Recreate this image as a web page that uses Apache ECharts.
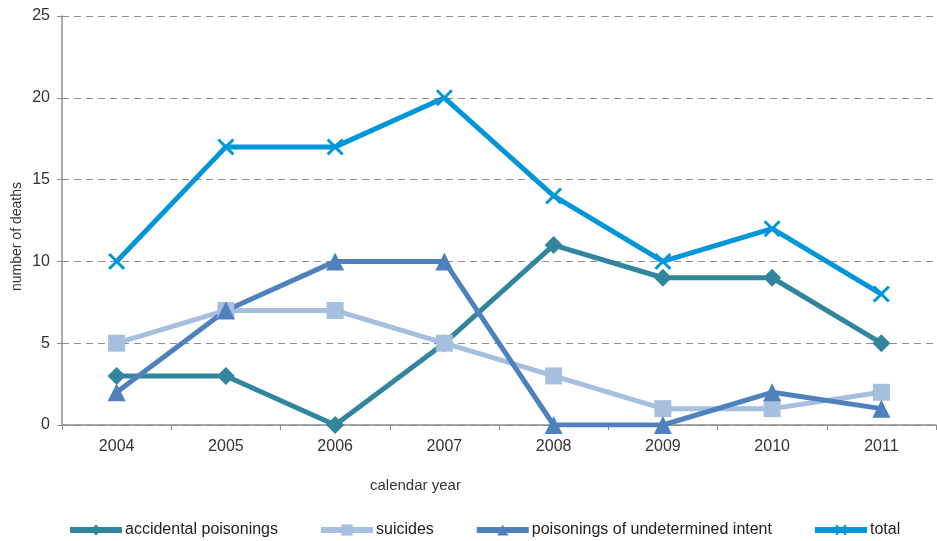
<!DOCTYPE html>
<html><head><meta charset="utf-8">
<script src="https://cdn.jsdelivr.net/npm/echarts@6/dist/echarts.min.js"></script>
<style>html,body{margin:0;padding:0;background:#fff}#c{width:937px;height:541px}</style>
</head><body><div id="c"></div>
<script>
var categories = ['2004','2005','2006','2007','2008','2009','2010','2011'];
var accidental = [3,3,0,5,11,9,9,5];
var suicides = [5,7,7,5,3,1,1,2];
var undetermined = [2,7,10,10,0,0,2,1];
var total = [10,17,17,20,14,10,12,8];
var yTicks = {min:0, max:25, interval:5};
var names = ['accidental poisonings','suicides','poisonings of undetermined intent','total'];

var crossPath = 'path://M0,1.2L1.2,0L5,3.8L8.8,0L10,1.2L6.2,5L10,8.8L8.8,10L5,6.2L1.2,10L0,8.8L3.8,5Z';
var font = 'Liberation Sans, Arial, sans-serif';
var chart = echarts.init(document.getElementById('c'));
function s(name, data, color, symbol, size){
  return {name:name, type:'line', data:data, symbol:symbol, symbolSize:size,
    lineStyle:{color:color, width:5}, itemStyle:{color:color}, animation:false, z:2};
}
chart.setOption({
  animation:false,
  grid:{left:62, right:1, top:16, bottom:116},
  xAxis:{type:'category', data:categories, boundaryGap:true,
    axisLine:{lineStyle:{color:'#8c8c8c', width:1.5}},
    axisTick:{show:true, length:5, lineStyle:{color:'#8c8c8c'}},
    axisLabel:{color:'#333', fontSize:16, fontFamily:font, margin:14},
    splitLine:{show:false}},
  yAxis:{type:'value', min:yTicks.min, max:yTicks.max, interval:yTicks.interval,
    axisLine:{show:true, lineStyle:{color:'#8c8c8c', width:1.5}},
    axisTick:{show:true, length:5, lineStyle:{color:'#8c8c8c'}},
    axisLabel:{color:'#333', fontSize:16, fontFamily:font, margin:12},
    splitLine:{lineStyle:{color:'#8c8c8c', type:[7,5], width:1.2}}},
  legend:{left:62, top:517, itemWidth:52, itemHeight:14, itemGap:40,
    lineStyle:{width:6},
    textStyle:{fontSize:16, fontFamily:font, color:'#222', padding:[0,0,0,-2]},
    data:names},
  graphic:[
    {type:'text', left:370, top:478, style:{text:'calendar year', font:'15px '+font, fill:'#333'}},
    {type:'text', x:10, y:291, rotation:Math.PI/2, style:{text:'number of deaths', font:'14px '+font, fill:'#333'}}
  ],
  series:[
    s(names[0], accidental, '#31859C', 'diamond', 18),
    s(names[1], suicides, '#A7BFDE', 'rect', 17),
    s(names[2], undetermined, '#4F81BD', 'triangle', 18),
    s(names[3], total, '#0096D8', crossPath, 17)
  ]
});
</script></body></html>
